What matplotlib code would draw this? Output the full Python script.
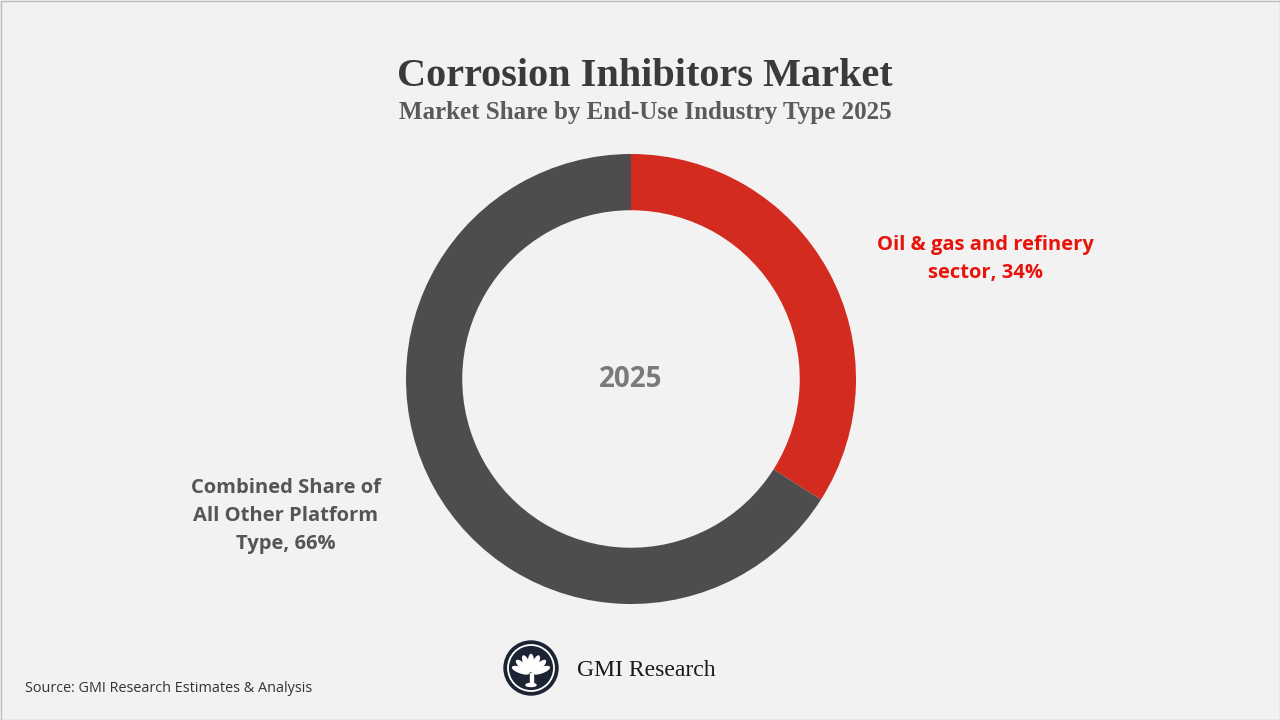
import math
import matplotlib.pyplot as plt
from matplotlib.patches import Circle, Ellipse, Rectangle

segments = ["Oil & gas and refinery\nsector, 34%", "Combined Share of\nAll Other Platform\nType, 66%"]
shares = [34, 66]
colors = ["#d32b20", "#4d4d4d"]
label_colors = ["#e8140c", "#555555"]

W, H = 1280, 720
fig = plt.figure(figsize=(12.8, 7.2), dpi=100)
fig.patch.set_facecolor("#f2f2f2")

# frame around the slide
frame = fig.add_axes([0, 0, 1, 1])
frame.set_xlim(0, W)
frame.set_ylim(H, 0)
frame.axis("off")
frame.add_patch(Rectangle((0.5, 0.5), W - 1, H - 1, fill=False, ec="#bdbdbd", lw=1))

# donut
cx, cy, r = 631, 379, 225
ax = fig.add_axes([(cx - r) / W, (H - cy - r) / H, 2 * r / W, 2 * r / H])
ax.pie(shares, colors=colors, startangle=90, counterclock=False, radius=1,
       wedgeprops=dict(width=0.25, edgecolor="none"))
ax.set_xlim(-1, 1)
ax.set_ylim(-1, 1)
ax.set_aspect("equal")
ax.axis("off")
ax.text(0, 0.0, "2025", ha="center", va="center", fontsize=20, fontweight="bold",
        color="#7a7a7a", family="Open Sans")

# titles
serif = ["Liberation Serif", "DejaVu Serif"]
fig.text(645 / W, 1 - 76 / H, "Corrosion Inhibitors Market", ha="center", va="center",
         fontsize=29, fontweight="bold", color="#3a3a3a", family=serif)
fig.text(645 / W, 1 - 113 / H, "Market Share by End-Use Industry Type 2025", ha="center",
         va="center", fontsize=18, fontweight="bold", color="#5a5a5a", family=serif)

# labels
fig.text(985 / W, 1 - 259 / H, segments[0], ha="center", va="center", fontsize=14.5,
         fontweight="bold", color=label_colors[0], family="Open Sans", linespacing=1.5)
fig.text(286 / W, 1 - 516 / H, segments[1], ha="center", va="center", fontsize=14.5,
         fontweight="bold", color=label_colors[1], family="Open Sans", linespacing=1.55)

# source
fig.text(25 / W, 1 - 689 / H, "Source: GMI Research Estimates & Analysis", ha="left",
         va="center", fontsize=10.4, color="#333333", family="Open Sans")

# logo
lx, ly = 531, 668
lg = fig.add_axes([(lx - 30) / W, (H - ly - 30) / H, 60 / W, 60 / H])
lg.set_xlim(-30, 30)
lg.set_ylim(-30, 30)
lg.axis("off")
lg.add_patch(Circle((0, 0), 27, color="#1c2333"))
lg.add_patch(Circle((0, 0), 23, fill=False, ec="white", lw=1.3))
for ang in [-70, -47, -23, 0, 23, 47, 70]:
    a = math.radians(ang)
    lg.add_patch(Ellipse((11 * math.sin(a), -6 + 11 * math.cos(a)), 5, 17,
                         angle=-ang, color="white"))
lg.add_patch(Rectangle((-1.5, -17), 3, 12, color="white"))
lg.add_patch(Ellipse((0, -17), 10, 3, color="white"))
fig.text(577 / W, 1 - 670 / H, "GMI Research", ha="left", va="center", fontsize=17,
         color="#1a1a1a", family=serif)

fig.savefig("out.png", dpi=100, facecolor=fig.get_facecolor())
